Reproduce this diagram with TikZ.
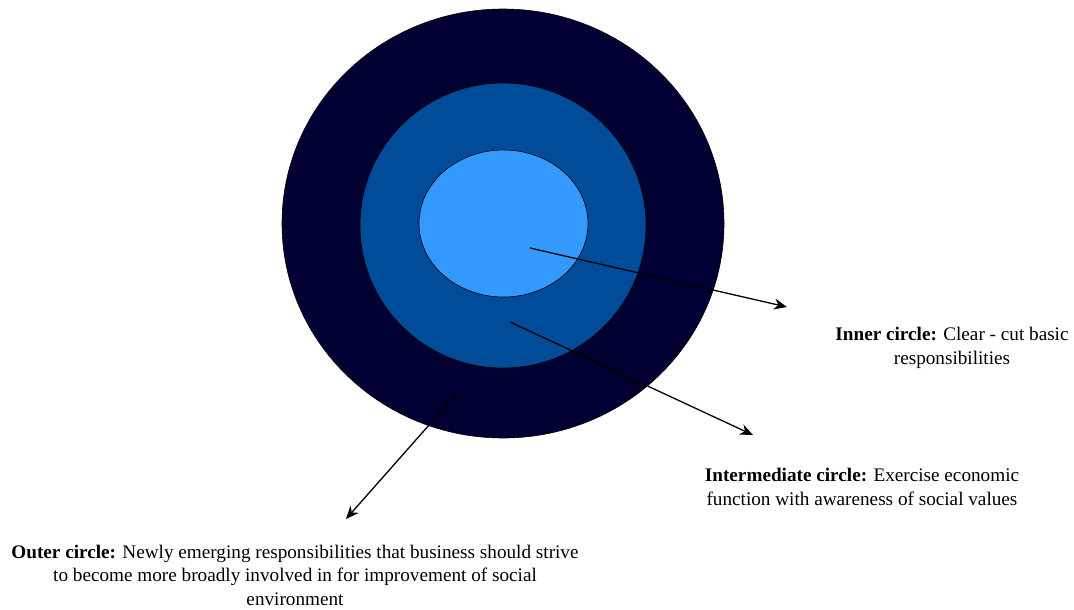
\documentclass[tikz,border=0pt]{standalone}
\usepackage{fontspec}
\setmainfont{Liberation Serif}
\usetikzlibrary{shapes.geometric,arrows.meta}
\definecolor{outerc}{RGB}{0,0,51}
\definecolor{midc}{RGB}{0,76,153}
\definecolor{innerc}{RGB}{51,153,255}
\tikzset{
  ring/.style={ellipse, draw=black, line width=0.6pt, inner sep=0pt},
  lbl/.style={align=center, font=\fontsize{19.2}{23.5}\selectfont, inner sep=0pt},
  arr/.style={-{Stealth[length=13pt,width=11pt]}, line width=1.3pt, black}
}
\begin{document}
\begin{tikzpicture}[x=1pt,y=-1pt]
\useasboundingbox (0,0) rectangle (1074,610);
\node[ring, fill=outerc, minimum width=442pt, minimum height=429pt] (outer) at (503,223.5) {};
\node[ring, fill=midc, minimum width=286pt, minimum height=285pt] (mid) at (503,225.5) {};
\node[ring, fill=innerc, minimum width=169pt, minimum height=147pt] (inner) at (503.5,223.5) {};
\coordinate (s1) at (530,248);
\coordinate (s2) at (510,322);
\coordinate (s3) at (460,390);
\coordinate (e1) at (787,307);
\coordinate (e2) at (753,435);
\coordinate (e3) at (346,519);
\draw[arr] (s1) -- (e1);
\draw[arr] (s2) -- (e2);
\draw[arr] (s3) -- (e3);
\node[lbl] (tin) at (952,348) {\textbf{Inner circle:} Clear - cut basic\\responsibilities};
\node[lbl] (tmid) at (862,487) {\textbf{Intermediate circle:} Exercise economic\\function with awareness of social values};
\node[lbl] (tout) at (295,575) {\textbf{Outer circle:} Newly emerging responsibilities that business should strive\\to become more broadly involved in for improvement of social\\environment};
\end{tikzpicture}
\end{document}
